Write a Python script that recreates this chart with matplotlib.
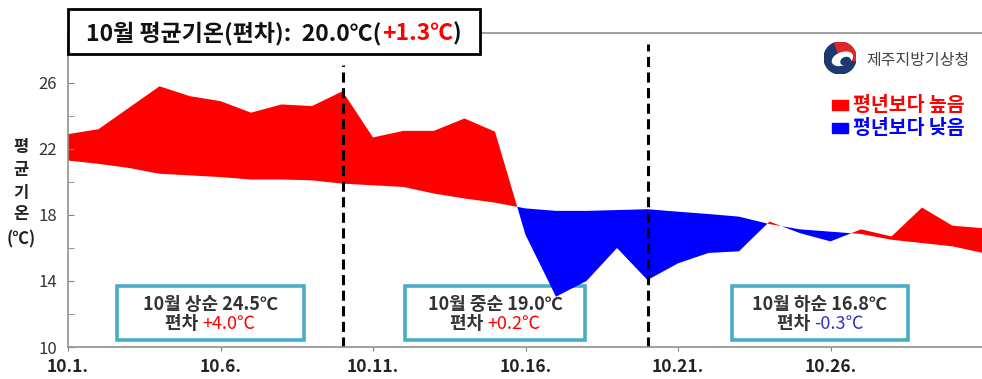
import matplotlib.pyplot as plt
from matplotlib.patches import Rectangle, Circle, Wedge, Ellipse
from matplotlib.ticker import MultipleLocator

plt.rcParams['font.family'] = ['Noto Sans CJK KR', 'DejaVu Sans']

# daily mean temperature, Jeju, October
days = list(range(1, 32))
observed = [22.9, 23.2, 24.5, 25.8, 25.2, 24.9, 24.2, 24.7, 24.6, 25.5,
            22.7, 23.1, 23.1, 23.85, 23.05, 16.8, 13.05, 14.0, 16.0, 14.06,
            15.07, 15.7, 15.8, 17.6, 16.9, 16.4, 17.13, 16.7, 18.45, 17.35, 17.2]
normal = [21.3, 21.1, 20.85, 20.5, 20.4, 20.3, 20.15, 20.15, 20.1, 19.9,
          19.8, 19.7, 19.3, 19.0, 18.75, 18.4, 18.25, 18.25, 18.3, 18.35,
          18.2, 18.06, 17.9, 17.45, 17.13, 16.99, 16.85, 16.5, 16.3, 16.1, 15.7]
xtick_days = [1, 6, 11, 16, 21, 26]
xtick_labels = ['10.1.', '10.6.', '10.11.', '10.16.', '10.21.', '10.26.']
yticks = [10, 14, 18, 22, 26]
dekad_split = [10, 20]
dekad_names = ['10월 상순 24.5℃', '10월 중순 19.0℃', '10월 하순 16.8℃']
dekad_dev = ['+4.0℃', '+0.2℃', '-0.3℃']

W, H = 982, 379
RED, BLUE, TEAL = '#ff0000', '#0000ff', '#4aacc6'


def fx(px):
    return px / W


def fy(py):
    return 1 - py / H


fig = plt.figure(figsize=(W / 100, H / 100), dpi=100)
ax = fig.add_axes([fx(68), fy(347), fx(983) - fx(68), fy(33) - fy(347)])
ax.set_facecolor('none')

ax.fill_between(days, observed, normal, where=[o >= n for o, n in zip(observed, normal)],
                interpolate=True, color=RED, linewidth=0)
ax.fill_between(days, observed, normal, where=[o < n for o, n in zip(observed, normal)],
                interpolate=True, color=BLUE, linewidth=0)

ax.axvline(dekad_split[0], ymax=0.898, color='black', lw=2.2, linestyle=(0, (3.3, 1.8)))
ax.axvline(dekad_split[1], ymax=0.965, color='black', lw=2.2, linestyle=(0, (3.3, 1.8)))

ax.set_xlim(1, 31)
ax.set_ylim(10, 29.03)
ax.set_xticks(xtick_days)
ax.set_xticklabels(xtick_labels, fontsize=12.5, fontweight='bold', color='#222222')
ax.set_yticks(yticks)
ax.set_yticklabels([str(v) for v in yticks], fontsize=12, color='#333333')
ax.yaxis.set_minor_locator(MultipleLocator(2))
ax.tick_params(axis='y', which='both', direction='in', length=4, color='#808080', pad=8)
ax.tick_params(axis='x', direction='out', length=3, color='#808080', pad=5)
for side in ['left', 'bottom', 'top']:
    ax.spines[side].set_color('#909090')
    ax.spines[side].set_linewidth(1.2)
ax.spines['right'].set_visible(False)

# y label, stacked
for ch, py in zip(['평', '균', '기', '온', '(℃)'], [147, 170, 193, 214, 239]):
    fig.text(fx(21), fy(py), ch, fontsize=12, fontweight='bold', color='#222222',
             ha='center', va='center')

renderer = fig.canvas.get_renderer()


def rich_text(xc, baseline, parts, size):
    texts = [fig.text(0, fy(baseline), s, color=c, fontsize=size, fontweight=wt,
                      ha='left', va='baseline', zorder=6) for s, c, wt in parts]
    widths = [t.get_window_extent(renderer).width / fig.bbox.width for t in texts]
    x = xc - sum(widths) / 2
    for t, w in zip(texts, widths):
        t.set_x(x)
        x += w


# title box
fig.patches.append(Rectangle((fx(68), fy(54)), fx(480) - fx(68), fy(9) - fy(54),
                             transform=fig.transFigure, facecolor='white',
                             edgecolor='black', linewidth=2, zorder=5))
rich_text(fx(274), 40, [('10월 평균기온(편차):  20.0℃(', '#111111', 'bold'),
                        ('+1.3℃', RED, 'bold'), (')', '#111111', 'bold')], 16.5)

# dekad boxes (drawn under the fills, like the original)
box_x = [(117, 304), (405, 585), (732, 908)]
for (x0, x1), name, dev in zip(box_x, dekad_names, dekad_dev):
    fig.patches.append(Rectangle((fx(x0), fy(340)), fx(x1) - fx(x0), fy(286) - fy(340),
                                 transform=fig.transFigure, facecolor='white',
                                 edgecolor=TEAL, linewidth=2.6, zorder=-1))
    xc = fx((x0 + x1) / 2)
    rich_text(xc, 310, [(name, '#333333', 'bold')], 13)
    rich_text(xc, 329, [('편차 ', '#333333', 'bold'),
                        (dev, RED if dev.startswith('+') else '#3333cc', 'normal')], 13)

# logo
lax = fig.add_axes([fx(824), fy(74), fx(856) - fx(824), fy(42) - fy(74)])
lax.set_xlim(-1, 1)
lax.set_ylim(-1, 1)
lax.set_aspect('equal')
lax.axis('off')
lax.add_patch(Circle((0, 0), 1, color='#1c3a6e'))
lax.add_patch(Wedge((0, 0), 1, -10, 110, color='#e0262b'))
lax.add_patch(Ellipse((0.15, -0.05), 1.3, 0.75, angle=20, color='white'))
lax.add_patch(Ellipse((0.35, -0.2), 0.6, 0.45, angle=20, color='#1c3a6e'))
fig.text(fx(866), fy(65), '제주지방기상청', fontsize=11.5, color='#444444', ha='left', va='baseline')

# legend
for (py, label, color) in [(105, '평년보다 높음', RED), (128, '평년보다 낮음', BLUE)]:
    fig.patches.append(Rectangle((fx(832), fy(py + 5)), fx(848) - fx(832), fy(py - 5) - fy(py + 5),
                                 transform=fig.transFigure, color=color))
    fig.text(fx(853), fy(py + 6), label, fontsize=14, fontweight='bold', color=color,
             ha='left', va='baseline')

fig.savefig('out.png', dpi=100, facecolor='white')
